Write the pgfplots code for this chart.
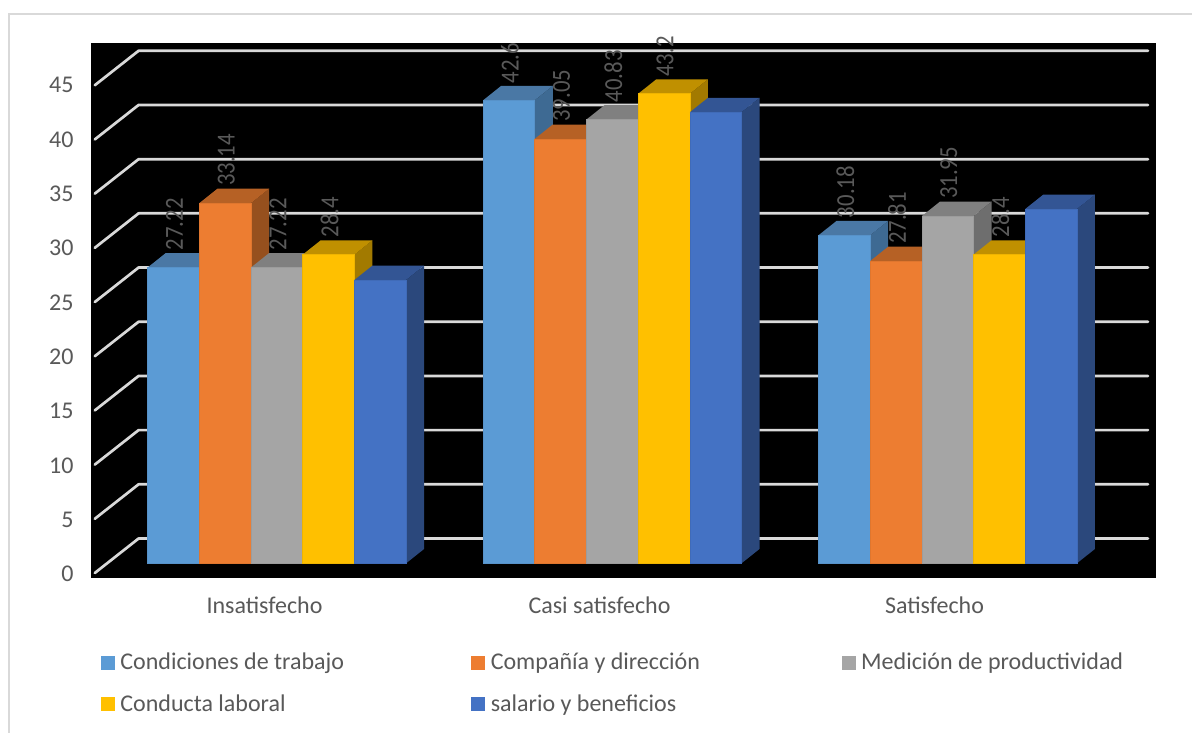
\documentclass[border=0pt]{standalone}
\usepackage{graphicx}
\usepackage{pgfplots}
\usepackage{fontspec}
\setmainfont{Carlito}
\pgfplotsset{compat=1.18}

\definecolor{txt}{HTML}{595959}
\definecolor{gridc}{HTML}{D9D9D9}
\definecolor{frameC}{HTML}{D9D9D9}
\definecolor{aF}{HTML}{5B9BD5}\definecolor{aT}{HTML}{4A78A5}\definecolor{aS}{HTML}{3E6A93}
\definecolor{bF}{HTML}{ED7D31}\definecolor{bT}{HTML}{B66125}\definecolor{bS}{HTML}{96501E}
\definecolor{cF}{HTML}{A5A5A5}\definecolor{cT}{HTML}{808080}\definecolor{cS}{HTML}{6E6E6E}
\definecolor{dF}{HTML}{FFC000}\definecolor{dT}{HTML}{C09000}\definecolor{dS}{HTML}{A27A00}
\definecolor{eF}{HTML}{4472C4}\definecolor{eT}{HTML}{335594}\definecolor{eS}{HTML}{2B487C}

% bar width and the oblique depth of the boxes, in axis units
\newcommand\bw{0.1543}
\newcommand\dx{0.0537}
\newcommand\dy{1.32}
% series index, group index, value, colour prefix
\newcommand\cuboid[4]{%
  \pgfmathsetmacro\xa{#2*1.0012-0.3487+#1*\bw}%
  \pgfmathsetmacro\xb{\xa+\bw}%
  \pgfmathsetmacro\xc{\xb+\dx}%
  \pgfmathsetmacro\xd{\xa+\dx}%
  \pgfmathsetmacro\yt{#3+\dy}%
  \edef\tmp{%
    \noexpand\addplot[fill=#4S,draw=none,forget plot] coordinates {(\xb,0) (\xc,\dy) (\xc,\yt) (\xb,#3)} -- cycle;
    \noexpand\addplot[fill=#4T,draw=none,forget plot] coordinates {(\xa,#3) (\xd,\yt) (\xc,\yt) (\xb,#3)} -- cycle;
    \noexpand\addplot[fill=#4F,draw=#4F!75!#4T,line width=0.6pt,forget plot] coordinates {(\xa,0) (\xb,0) (\xb,#3) (\xa,#3)} -- cycle;
  }\tmp}
% value written above a bar
\newcommand\vallabel[3]{%
  \pgfmathsetmacro\xm{#2*1.0012-0.3487+(#1+0.5)*\bw+0.003}%
  \edef\tmp{%
    \noexpand\addplot[draw=none,forget plot,point meta=explicit symbolic,
      nodes near coords={\noexpand\scalebox{0.875}[1]{\noexpand\pgfplotspointmeta}},
      every node near coord/.style={yshift=17pt,rotate=90,anchor=west,inner sep=0pt,text=txt,font=\noexpand\fontsize{26pt}{28pt}\noexpand\selectfont}]
      coordinates {(\xm,#3) [#3]};
  }\tmp}
% wall grid line: front point, back corner, far end
\newcommand\wall[1]{%
  \pgfmathsetmacro\ya{#1*0.9972-0.892}%
  \pgfmathsetmacro\yb{#1*0.9972+2.281}%
  \edef\tmp{%
    \noexpand\addplot[gridc,line width=2.7pt,line join=round,line cap=round,forget plot] coordinates {(-0.5066,\ya) (-0.3758,\yb) (2.6373,\yb)};
  }\tmp}

\begin{document}
\begin{tikzpicture}[x=1pt,y=1pt]
\useasboundingbox (0,0) rectangle (1192,733);
\fill[white] (0,0) rectangle (1192,733);
\draw[frameC,line width=2pt] (8.5,0) -- (8.5,719) -- (1192,719);
\begin{axis}[
  at={(91pt,155pt)},anchor=south west,
  scale only axis,width=1065pt,height=535pt,
  xmin=-0.5179,xmax=2.6612,ymin=-1.352,ymax=47.87,
  clip=false,
  axis background/.style={fill=black},
  axis line style={draw=none},
  major tick length=0pt,
  xtick={0,1,2},xticklabels={Insatisfecho,Casi satisfecho,Satisfecho},
  ytick={-1,4,9,14,19,24,29,34,39,44},
  yticklabels={0,5,10,15,20,25,30,35,40,45},
  tick label style={text=txt,font=\fontsize{24pt}{26pt}\selectfont},
  xticklabel style={yshift=-15pt},
  yticklabel style={xshift=-14pt},
  legend columns=3,
  legend cell align=left,
  legend style={draw=none,fill=none,anchor=north west,
    font=\fontsize{24pt}{26pt}\selectfont,text=txt,inner sep=0pt,outer sep=0pt,
    /tikz/every even column/.append style={column sep=0pt},
    row sep=19.5pt,
    at={(0.0094,-0.137)}},
  legend image code/.code={\fill[#1] (0pt,-6.5pt) rectangle (13pt,6.5pt);},
]
\addlegendimage{aF}\addlegendentry{\makebox[353pt][l]{\hspace*{4pt}Condiciones de trabajo}}
\addlegendimage{bF}\addlegendentry{\makebox[353pt][l]{\hspace*{4pt}Compañía y dirección}}
\addlegendimage{cF}\addlegendentry{\hspace*{4pt}Medición de productividad}
\addlegendimage{dF}\addlegendentry{\hspace*{4pt}Conducta laboral}
\addlegendimage{eF}\addlegendentry{\hspace*{4pt}salario y beneficios}

\pgfplotsinvokeforeach{0,5,...,45}{\wall{#1}}

% Insatisfecho
\cuboid{0}{0}{27.22}{a}\cuboid{1}{0}{33.14}{b}\cuboid{2}{0}{27.22}{c}\cuboid{3}{0}{28.4}{d}\cuboid{4}{0}{26.07}{e}
% Casi satisfecho
\cuboid{0}{1}{42.6}{a}\cuboid{1}{1}{39.05}{b}\cuboid{2}{1}{40.83}{c}\cuboid{3}{1}{43.2}{d}\cuboid{4}{1}{41.5}{e}
% Satisfecho
\cuboid{0}{2}{30.18}{a}\cuboid{1}{2}{27.81}{b}\cuboid{2}{2}{31.95}{c}\cuboid{3}{2}{28.4}{d}\cuboid{4}{2}{32.6}{e}

\vallabel{0}{0}{27.22}\vallabel{1}{0}{33.14}\vallabel{2}{0}{27.22}\vallabel{3}{0}{28.4}
\vallabel{0}{1}{42.6}\vallabel{1}{1}{39.05}\vallabel{2}{1}{40.83}\vallabel{3}{1}{43.2}
\vallabel{0}{2}{30.18}\vallabel{1}{2}{27.81}\vallabel{2}{2}{31.95}\vallabel{3}{2}{28.4}
\end{axis}
\end{tikzpicture}
\end{document}
